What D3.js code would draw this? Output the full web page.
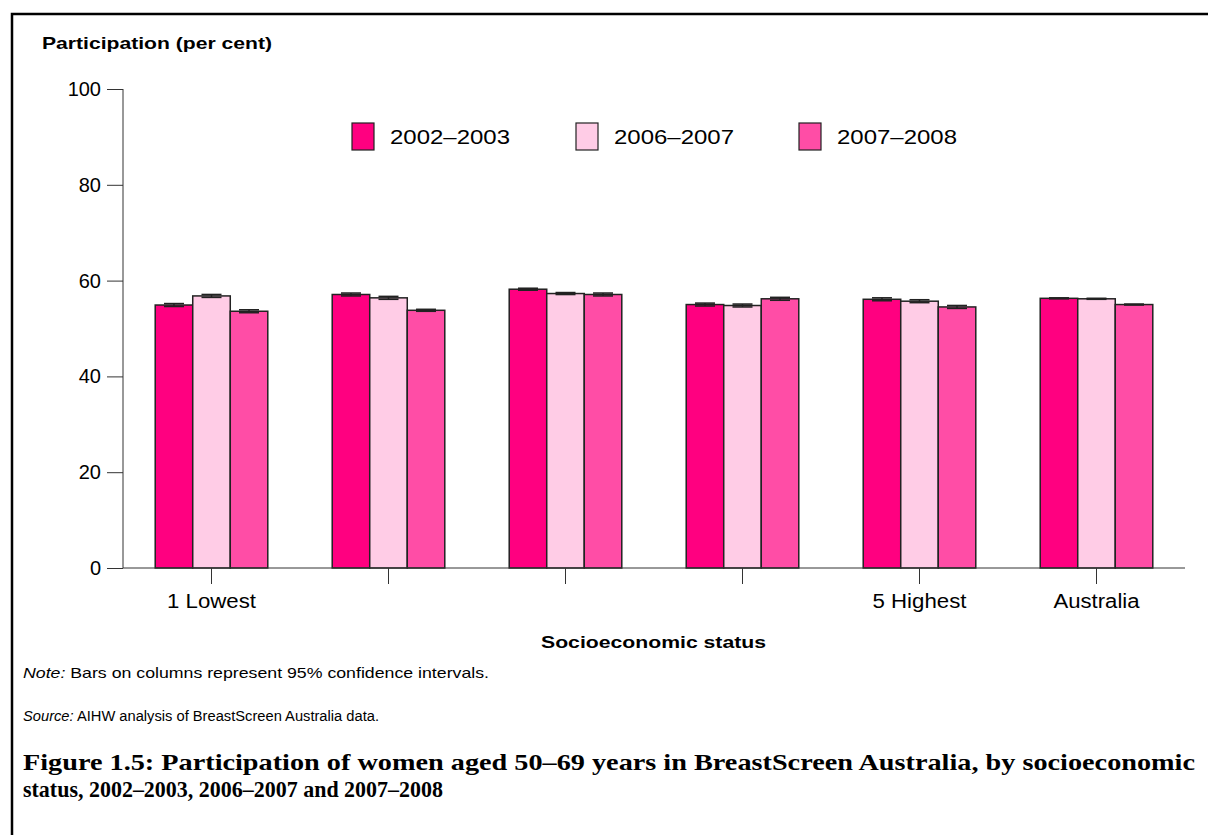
<!DOCTYPE html>
<html><head><meta charset="utf-8">
<script src="https://cdn.jsdelivr.net/npm/d3@7"></script>
<style>body{margin:0;background:#fff}svg{display:block}</style>
</head><body>
<script>
const categories = ["1 Lowest", "2", "3", "4", "5 Highest", "Australia"];
const tickLabels = ["1 Lowest", "", "", "", "5 Highest", "Australia"];
const series = ["2002–2003", "2006–2007", "2007–2008"];
const colors = ["#FF0080", "#FFCCE6", "#FF4DA6"];
const v2002 = [54.9, 57.1, 58.2, 55.0, 56.1, 56.3];
const v2006 = [56.8, 56.4, 57.3, 54.8, 55.7, 56.2];
const v2007 = [53.6, 53.8, 57.1, 56.2, 54.5, 55.0];
const ci2002 = [0.3, 0.3, 0.2, 0.3, 0.3, 0.1];
const ci2006 = [0.3, 0.3, 0.2, 0.3, 0.3, 0.1];
const ci2007 = [0.3, 0.2, 0.3, 0.3, 0.3, 0.1];
const yTicks = [0, 20, 40, 60, 80, 100];

const values = [v2002, v2006, v2007];
const cis = [ci2002, ci2006, ci2007];
const data = [];
categories.forEach((c, i) => series.forEach((s, j) => data.push({cat: c, ser: s, v: values[j][i], ci: cis[j][i], j})));

const SANS = "Liberation Sans, Arial, sans-serif";
const W = 1208, H = 835;
const svg = d3.select("body").append("svg").attr("width", W).attr("height", H);
svg.append("rect").attr("x", 12).attr("y", 14).attr("width", W + 20).attr("height", H + 20)
  .attr("fill", "none").attr("stroke", "#000").attr("stroke-width", 2.5);

const x0 = d3.scaleBand().domain(categories).range([123, 1185]).paddingInner(0.364).paddingOuter(0.182);
const x1 = d3.scaleBand().domain(series).range([0, x0.bandwidth()]);
const y = d3.scaleLinear().domain([0, 100]).range([568, 89]);

// Bars
svg.append("g").selectAll("rect").data(data).join("rect")
  .attr("x", d => x0(d.cat) + x1(d.ser))
  .attr("y", d => y(d.v))
  .attr("width", x1.bandwidth())
  .attr("height", d => y(0) - y(d.v))
  .attr("fill", d => colors[d.j])
  .attr("stroke", "#222").attr("stroke-width", 1.5);

// Error bars
const eb = svg.append("g").attr("stroke", "#222");
data.forEach(d => {
  const cx = x0(d.cat) + x1(d.ser) + x1.bandwidth() / 2;
  eb.append("line").attr("x1", cx).attr("x2", cx).attr("y1", y(d.v - d.ci)).attr("y2", y(d.v + d.ci)).attr("stroke-width", 1.5);
  eb.append("line").attr("x1", cx - 10).attr("x2", cx + 10).attr("y1", y(d.v + d.ci)).attr("y2", y(d.v + d.ci)).attr("stroke-width", 1.6);
  eb.append("line").attr("x1", cx - 10).attr("x2", cx + 10).attr("y1", y(d.v - d.ci)).attr("y2", y(d.v - d.ci)).attr("stroke-width", 1.6);
});

// Y axis
const yAxis = svg.append("g").attr("transform", "translate(123,0)")
  .call(d3.axisLeft(y).tickValues(yTicks).tickSize(16).tickPadding(6));
yAxis.select(".domain").attr("stroke", "#333").attr("d", `M0,${y(100)}V${y(0)}`);
yAxis.selectAll(".tick line").attr("stroke", "#333");
yAxis.selectAll("text").attr("font-family", SANS).attr("font-size", 20).attr("fill", "#000");

// X axis
const xLabelWidths = [89, 0, 0, 0, 94, 86];
const xAxis = svg.append("g").attr("transform", `translate(0,${y(0)})`)
  .call(d3.axisBottom(x0).tickSize(16).tickPadding(10).tickFormat((d, i) => tickLabels[i]));
xAxis.select(".domain").attr("stroke", "#333").attr("d", `M123,0H1185`);
xAxis.selectAll(".tick line").attr("stroke", "#333");
xAxis.selectAll("text").attr("font-family", SANS).attr("font-size", 20).attr("fill", "#000")
  .each(function(d, i) { if (xLabelWidths[i]) d3.select(this).attr("textLength", xLabelWidths[i]).attr("lengthAdjust", "spacingAndGlyphs"); });

// Titles
svg.append("text").attr("x", 42).attr("y", 49).text("Participation (per cent)")
  .attr("font-family", SANS).attr("font-weight", "bold").attr("font-size", 17)
  .attr("textLength", 230).attr("lengthAdjust", "spacingAndGlyphs");
svg.append("text").attr("x", 541).attr("y", 648).text("Socioeconomic status")
  .attr("font-family", SANS).attr("font-weight", "bold").attr("font-size", 17)
  .attr("textLength", 225).attr("lengthAdjust", "spacingAndGlyphs");

// Legend
const legX = [352, 576, 799];
const leg = svg.append("g").selectAll("g").data(series).join("g")
  .attr("transform", (d, i) => `translate(${legX[i]},123)`);
leg.append("rect").attr("width", 22).attr("height", 27).attr("fill", (d, i) => colors[i])
  .attr("stroke", "#222").attr("stroke-width", 1.2);
leg.append("text").attr("x", 38).attr("y", 21).text(d => d)
  .attr("font-family", SANS).attr("font-size", 20)
  .attr("textLength", 120).attr("lengthAdjust", "spacingAndGlyphs");

// Notes
const note = svg.append("text").attr("x", 23).attr("y", 678)
  .attr("font-family", SANS).attr("font-size", 15)
  .attr("textLength", 466).attr("lengthAdjust", "spacingAndGlyphs");
note.append("tspan").attr("font-style", "italic").text("Note:");
note.append("tspan").text(" Bars on columns represent 95% confidence intervals.");
const src = svg.append("text").attr("x", 23).attr("y", 721)
  .attr("font-family", SANS).attr("font-size", 14)
  .attr("textLength", 356).attr("lengthAdjust", "spacingAndGlyphs");
src.append("tspan").attr("font-style", "italic").text("Source:");
src.append("tspan").text(" AIHW analysis of BreastScreen Australia data.");

// Caption
const capLines = ["Figure 1.5: Participation of women aged 50–69 years in BreastScreen Australia, by socioeconomic",
                  "status, 2002–2003, 2006–2007 and 2007–2008"];
svg.append("text").attr("x", 23).attr("y", 770).text(capLines[0])
  .attr("font-family", "Liberation Serif, serif").attr("font-weight", "bold").attr("font-size", 23)
  .attr("textLength", 1172).attr("lengthAdjust", "spacingAndGlyphs");
svg.append("text").attr("x", 23).attr("y", 797).text(capLines[1])
  .attr("font-family", "Liberation Serif, serif").attr("font-weight", "bold").attr("font-size", 23)
  .attr("textLength", 420).attr("lengthAdjust", "spacingAndGlyphs");
</script>
</body></html>
